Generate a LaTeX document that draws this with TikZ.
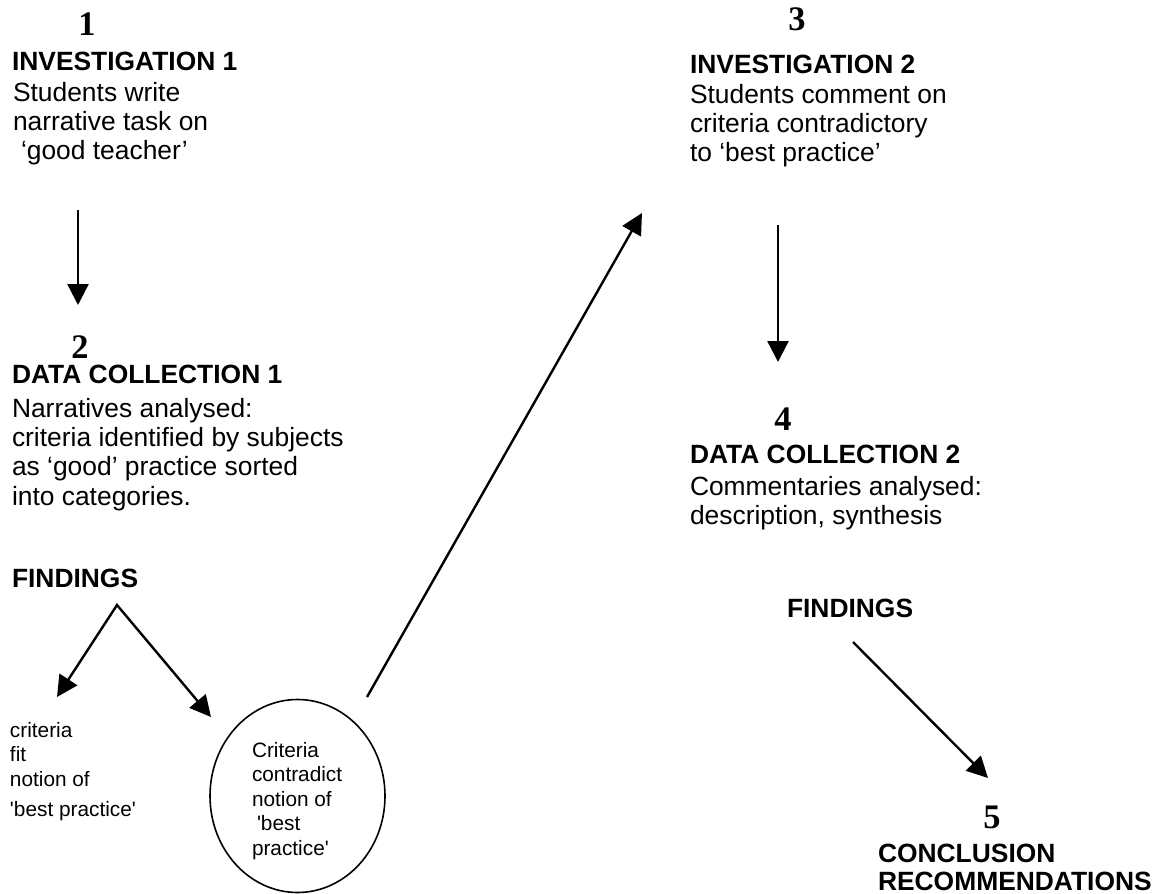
\documentclass[tikz,border=0pt]{standalone}
\usepackage{fontspec}
\setmainfont{Liberation Sans}[Ligatures=TeXOff]
\newfontfamily\numfont{Liberation Serif}[Ligatures=TeXOff]
\usetikzlibrary{arrows.meta,shapes.geometric}
\newcommand{\mylines}[1]{\begin{tabular}[t]{@{}l@{}}#1\end{tabular}}

\begin{document}
\begin{tikzpicture}[x=0.5pt,y=-0.5pt,
  every node/.style={inner sep=0pt, outer sep=0pt},
  num/.style={font=\numfont\bfseries\fontsize{17.2}{19}\selectfont, anchor=base},
  head/.style={font=\bfseries\fontsize{13.2}{14}\selectfont, anchor=base west},
  body/.style={font=\fontsize{13.2}{14.7}\selectfont, anchor=base west},
  small/.style={font=\fontsize{10.4}{12.3}\selectfont, align=left},
  arr/.style={line width=1.2pt, -{Triangle[length=10.5pt,width=10.5pt]}},
  fork/.style={line width=1.2pt, {Triangle[length=10.5pt,width=10.5pt]}-{Triangle[length=10.5pt,width=10.5pt]}},
]
\useasboundingbox (0,0) rectangle (1173,894);

% Block 1
\node[num] (n1) at (87,35) {1};
\node[head] (h1) at (12,70) {INVESTIGATION 1};
\node[body] (b1) at (13,101) {\mylines{Students write\\narrative task on\\\hspace{4pt}‘good teacher’}};

% Block 2
\node[num] (n2) at (80,358) {2};
\node[head] (h2) at (12,383) {DATA COLLECTION 1};
\node[body] (b2) at (12,417) {\mylines{Narratives analysed:\\criteria identified by subjects\\as ‘good’ practice sorted\\into categories.}};
\node[head] (f1) at (12,587) {FINDINGS};

% Findings 1 outcomes
\node[small, anchor=base west] (fit) at (10,737) {\mylines{criteria\\fit\\notion of\\[3pt]'best practice'}};
\node[draw, ellipse, line width=0.8pt, minimum width=87.5pt, minimum height=96.5pt] (circ) at (297.5,796) {};
\node[small, anchor=base west] (circtext) at (252,757) {\mylines{Criteria\\contradict\\notion of\\\hspace{2.5pt}'best\\practice'}};

% Block 3
\node[num] (n3) at (797,30) {3};
\node[head] (h3) at (690,73) {INVESTIGATION 2};
\node[body] (b3) at (690,103) {\mylines{Students comment on\\criteria contradictory\\to ‘best practice’}};

% Block 4
\node[num] (n4) at (783,430) {4};
\node[head] (h4) at (690,463) {DATA COLLECTION 2};
\node[body] (b4) at (690,495) {\mylines{Commentaries analysed:\\description, synthesis}};
\node[head] (f2) at (787,617) {FINDINGS};

% Block 5
\node[num] (n5) at (992,828) {5};
\node[head] (h5) at (878,862) {\mylines{CONCLUSION\\RECOMMENDATIONS}};

% connector end points
\coordinate (a1s) at (78,210);
\coordinate (a1e) at (78,305);
\coordinate (apex) at (117,605);
\coordinate (fl) at (57,697);
\coordinate (fr) at (211,717);
\coordinate (ls) at (367,697);
\coordinate (le) at (642,213);
\coordinate (a3s) at (778,225);
\coordinate (a3e) at (778,362);
\coordinate (a5s) at (853,642);
\coordinate (a5e) at (988,778);

\draw[arr] (a1s) -- (a1e);
\draw[fork] (fl) -- (apex) -- (fr);
\draw[arr] (ls) -- (le);
\draw[arr] (a3s) -- (a3e);
\draw[arr] (a5s) -- (a5e);
\end{tikzpicture}
\end{document}
